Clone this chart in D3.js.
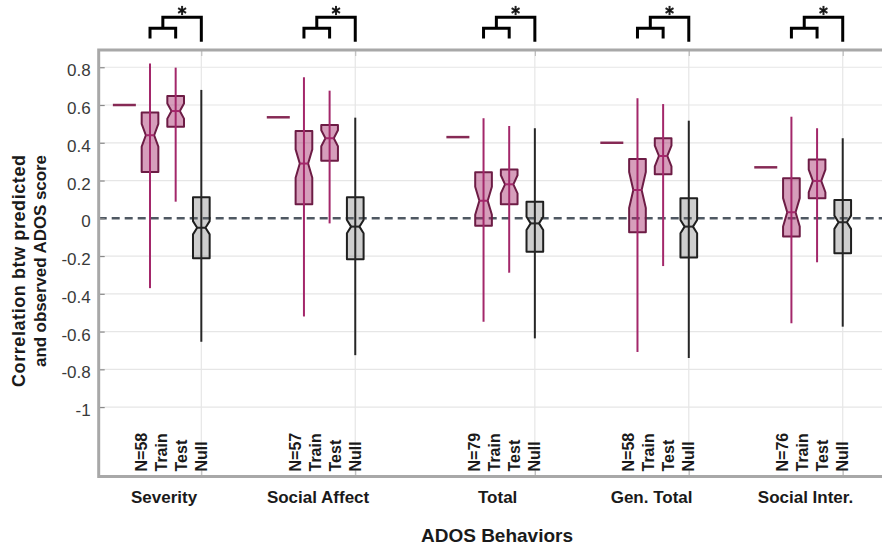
<!DOCTYPE html>
<html><head><meta charset="utf-8">
<script src="https://cdn.jsdelivr.net/npm/d3@7"></script>
<style>
body{margin:0;background:#fff}
svg{display:block}
text{font-family:"Liberation Sans",Arial,Helvetica,sans-serif}
</style>
</head><body>
<svg id="c" width="882" height="546"></svg>
<script>
// ---------------- data ----------------
const categories = ["Severity", "Social Affect", "Total", "Gen. Total", "Social Inter."];
const nLabels = ["N=58", "N=57", "N=79", "N=58", "N=76"];
const slotLabels = ["Train", "Test", "Null"];
// observed correlation (short horizontal bar)
const observed = [0.60, 0.535, 0.43, 0.40, 0.27];
// [lower whisker, q1, median, q3, upper whisker]
const trainStats = [
  [-0.37, 0.245, 0.44, 0.56, 0.82],
  [-0.52, 0.075, 0.29, 0.462, 0.747],
  [-0.548, -0.039, 0.093, 0.244, 0.53],
  [-0.708, -0.074, 0.15, 0.314, 0.636],
  [-0.556, -0.097, 0.032, 0.212, 0.538]
];
const testStats = [
  [0.088, 0.485, 0.568, 0.648, 0.798],
  [-0.027, 0.305, 0.424, 0.494, 0.676],
  [-0.288, 0.074, 0.18, 0.259, 0.489],
  [-0.253, 0.233, 0.33, 0.424, 0.605],
  [-0.233, 0.106, 0.198, 0.312, 0.477]
];
const nullStats = [
  [-0.654, -0.212, -0.05, 0.111, 0.68],
  [-0.725, -0.217, -0.044, 0.111, 0.533],
  [-0.636, -0.177, -0.027, 0.088, 0.477],
  [-0.74, -0.207, -0.044, 0.106, 0.517],
  [-0.574, -0.185, -0.021, 0.097, 0.424]
];
// notch half-heights (median confidence interval)
const trainNotch = [0.06, 0.075, 0.074, 0.095, 0.075];
const testNotch = [0.04, 0.042, 0.048, 0.055, 0.06];
const nullNotch = [0.035, 0.035, 0.035, 0.035, 0.035];
const significance = ["*", "*", "*", "*", "*"];
const yTicks = [-1, -0.8, -0.6, -0.4, -0.2, 0, 0.2, 0.4, 0.6, 0.8];
const yTickLabels = ["-1", "-0.8", "-0.6", "-0.4", "-0.2", "0", "0.2", "0.4", "0.6", "0.8"];
const yLabelLines = ["Correlation btw predicted", "and observed ADOS score"];
const xTitle = "ADOS Behaviors";

// ---------------- layout ----------------
const groupSlot = [1, 7, 14, 20, 26]; // axis position of the first slot of each group
const svg = d3.select("#c");
const L = 98.7, T = 50, B = 476.5, R = 884;
const x = d3.scaleLinear().domain([0, 30.5]).range([L, L + 25.656 * 30.5]);
const y = d3.scaleLinear().domain([-1.3676, 0.8914]).range([B, T]);
const slotW = x(1) - x(0);
const boxW = slotW * 0.65;

const pink = {fill: "rgba(165,40,105,0.45)", stroke: "#6d1c45", whisk: "#a3276a", med: "#a3276a"};
const grey = {fill: "rgba(110,110,110,0.34)", stroke: "#1f1f1f", whisk: "#262626", med: "#262626"};

// grid
const grid = svg.append("g");
grid.selectAll("line.h").data(yTicks.filter(d => d !== 0)).join("line")
  .attr("x1", L).attr("x2", R).attr("y1", d => y(d)).attr("y2", d => y(d))
  .attr("stroke", "#e6e6e6").attr("stroke-width", 1.2);
const nullPos = groupSlot.map(g => g + 3);
grid.selectAll("line.v").data(nullPos).join("line")
  .attr("x1", d => x(d)).attr("x2", d => x(d)).attr("y1", T).attr("y2", B)
  .attr("stroke", "#e6e6e6").attr("stroke-width", 1.2);

// zero dashed line
svg.append("line").attr("x1", L).attr("x2", R).attr("y1", y(0)).attr("y2", y(0))
  .attr("stroke", "#4f5862").attr("stroke-width", 2.6).attr("stroke-dasharray", "8,5");

// axes (inward ticks)
const yAxis = d3.axisLeft(y).tickValues(yTicks).tickSize(-6).tickPadding(8)
  .tickFormat((d, i) => yTickLabels[i]);
const ya = svg.append("g").attr("transform", `translate(${L},0)`).call(yAxis);
ya.select(".domain").remove();
ya.selectAll(".tick line").attr("stroke", "#8a8a8a").attr("stroke-width", 1.2);
ya.selectAll(".tick text").attr("font-size", 17).attr("fill", "#3a3a3a")
  .attr("font-family", "'Liberation Sans',Arial,sans-serif").attr("dy", "0.5em");

const xb = svg.append("g").attr("transform", `translate(0,${B})`)
  .call(d3.axisBottom(x).tickValues(nullPos).tickSize(-6).tickFormat(""));
xb.select(".domain").remove();
xb.selectAll(".tick line").attr("stroke", "#b5b5b5");
const xt = svg.append("g").attr("transform", `translate(0,${T})`)
  .call(d3.axisTop(x).tickValues(nullPos).tickSize(-6).tickFormat(""));
xt.select(".domain").remove();
xt.selectAll(".tick line").attr("stroke", "#b5b5b5");

// boxes
function notchPath(cx, s, nh) {
  const [lo, q1, med, q3, hi] = s;
  const h = boxW / 2, q = boxW / 4;
  const p = d3.path();
  p.moveTo(cx - h, y(q3)); p.lineTo(cx + h, y(q3));
  p.lineTo(cx + h, y(med + nh)); p.lineTo(cx + q, y(med)); p.lineTo(cx + h, y(med - nh));
  p.lineTo(cx + h, y(q1)); p.lineTo(cx - h, y(q1));
  p.lineTo(cx - h, y(med - nh)); p.lineTo(cx - q, y(med)); p.lineTo(cx - h, y(med + nh));
  p.closePath();
  return p.toString();
}
function drawBox(g, cx, s, nh, c) {
  g.append("path").attr("d", notchPath(cx, s, nh))
    .attr("fill", c.fill).attr("stroke", c.stroke).attr("stroke-width", 2)
    .attr("stroke-linejoin", "round");
  g.append("line").attr("x1", cx).attr("x2", cx).attr("y1", y(s[0])).attr("y2", y(s[4]))
    .attr("stroke", c.whisk).attr("stroke-width", 2);
  g.append("line").attr("x1", cx - boxW / 4).attr("x2", cx + boxW / 4)
    .attr("y1", y(s[2])).attr("y2", y(s[2])).attr("stroke", c.med).attr("stroke-width", 2);
}
const marks = svg.append("g");
categories.forEach((cat, i) => {
  const g0 = groupSlot[i];
  marks.append("line").attr("x1", x(g0) - 11.5).attr("x2", x(g0) + 11.5)
    .attr("y1", y(observed[i])).attr("y2", y(observed[i]))
    .attr("stroke", "#862a55").attr("stroke-width", 2.5);
  drawBox(marks, x(g0 + 1), trainStats[i], trainNotch[i], pink);
  drawBox(marks, x(g0 + 2), testStats[i], testNotch[i], pink);
  drawBox(marks, x(g0 + 3), nullStats[i], nullNotch[i], grey);
});

// frame
svg.append("path").attr("d", `M${R},${T}H${L}V${B}H${R}`)
  .attr("fill", "none").attr("stroke", "#a8a8a8").attr("stroke-width", 3);

// significance brackets
const br = svg.append("g");
categories.forEach((cat, i) => {
  const g0 = groupSlot[i];
  const a = x(g0 + 1), b = x(g0 + 2), c = x(g0 + 3), m = (a + b) / 2;
  br.append("path").attr("d", `M${a},38.5V28.3H${b}V38.5M${m},28.3V17.3H${c}V41.7`)
    .attr("fill", "none").attr("stroke", "#000").attr("stroke-width", 3);
  const sx = (m + c) / 2, sy = 10.5;
  if (significance[i] === "*") {
    const star = br.append("g").attr("transform", `translate(${sx},${sy})`);
    [0, 60, 120].forEach(ang => {
      star.append("line").attr("x1", 0).attr("y1", -4.6).attr("x2", 0).attr("y2", 4.6)
        .attr("transform", `rotate(${ang})`).attr("stroke", "#222").attr("stroke-width", 2);
    });
    star.append("circle").attr("r", 1.8).attr("fill", "#111");
  }
});

// rotated slot labels
const lab = svg.append("g");
categories.forEach((cat, i) => {
  const xn = x(groupSlot[i] + 3);
  const lines = [nLabels[i]].concat(slotLabels);
  lines.forEach((t, k) => {
    const cx = xn - (3 - k) * 20 + 5.6;
    lab.append("text").attr("transform", `translate(${cx},471.5) rotate(-90)`)
      .attr("font-size", 16).attr("font-weight", "bold").attr("fill", "#1a1a1a").text(t);
  });
  lab.append("text").attr("x", x(groupSlot[i] + 1.55)).attr("y", 503)
    .attr("text-anchor", "middle").attr("font-size", 17).attr("font-weight", "bold")
    .attr("fill", "#1a1a1a").text(cat);
});

// axis titles
svg.append("text").attr("x", 497).attr("y", 542).attr("text-anchor", "middle")
  .attr("font-size", 19).attr("font-weight", "bold").attr("fill", "#1a1a1a").text(xTitle);
const ylab = svg.append("g");
[[24.5, 18, 232], [46.2, 17, 212]].forEach(([bx, fs, len], k) => {
  ylab.append("text").attr("transform", `translate(${bx},155) rotate(-90)`)
    .attr("text-anchor", "end").attr("font-size", fs).attr("font-weight", "bold")
    .attr("textLength", len).attr("lengthAdjust", "spacing")
    .attr("fill", "#1a1a1a").text(yLabelLines[k]);
});
</script>
</body></html>
